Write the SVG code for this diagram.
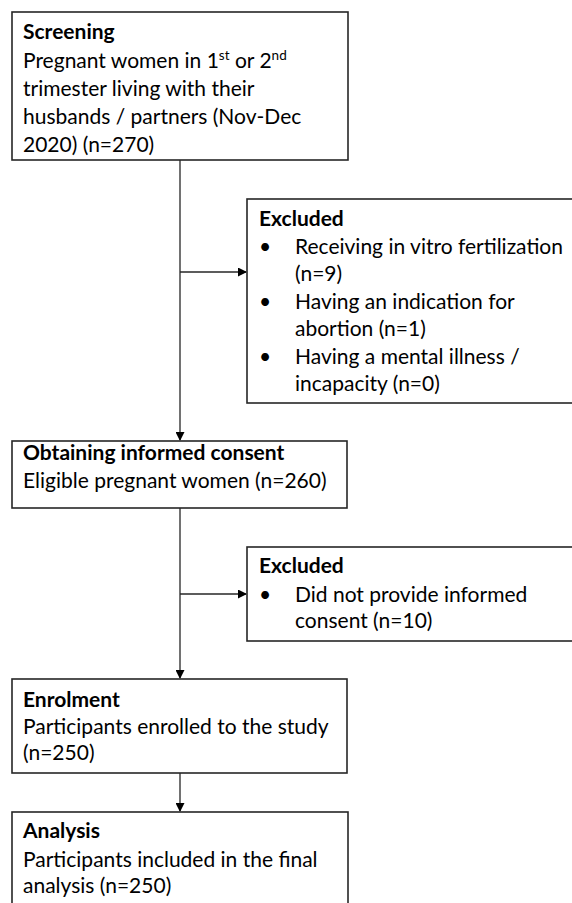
<svg xmlns="http://www.w3.org/2000/svg" width="572" height="903" viewBox="0 0 572 903">
<style>
.box{fill:#fff;stroke:#262626;stroke-width:1.6}
.t{font-family:Lato,"Liberation Sans",sans-serif;font-size:21px;fill:#000}
.b{font-weight:bold}
.sup{font-size:13.5px}
.c{stroke:#262626;stroke-width:1.3;fill:none}
</style>
<defs>
<marker id="ah" markerWidth="9" markerHeight="9" refX="8" refY="4.5" orient="auto" markerUnits="userSpaceOnUse">
<path d="M0,0 L9,4.5 L0,9 Z" fill="#000"/>
</marker>
</defs>
<rect width="572" height="903" fill="#fff"/>
<g id="connectors">
<line class="c" x1="180" y1="160" x2="180" y2="440" marker-end="url(#ah)"/>
<line class="c" x1="180" y1="272" x2="246" y2="272" marker-end="url(#ah)"/>
<line class="c" x1="180" y1="508" x2="180" y2="678" marker-end="url(#ah)"/>
<line class="c" x1="180" y1="594" x2="246" y2="594" marker-end="url(#ah)"/>
<line class="c" x1="180" y1="773" x2="180" y2="811" marker-end="url(#ah)"/>
</g>
<g id="screening">
<rect class="box" x="12" y="12" width="336" height="148"/>
<text class="t b" x="23" y="39">Screening</text>
<text class="t" x="23" y="68">Pregnant women in 1<tspan class="sup" dy="-8">st</tspan><tspan dy="8"> or 2</tspan><tspan class="sup" dy="-8">nd</tspan></text>
<text class="t" x="23" y="96">trimester living with their</text>
<text class="t" x="23" y="124">husbands / partners (Nov-Dec</text>
<text class="t" x="23" y="152">2020) (n=270)</text>
</g>
<g id="excluded1">
<rect class="box" x="247" y="199" width="340" height="204"/>
<text class="t b" x="259" y="226">Excluded</text>
<text class="t" x="259" y="253.5">•</text>
<text class="t" x="295" y="253.5">Receiving in vitro fertilization</text>
<text class="t" x="295" y="281">(n=9)</text>
<text class="t" x="259" y="308.5">•</text>
<text class="t" x="295" y="308.5">Having an indication for</text>
<text class="t" x="295" y="336">abortion (n=1)</text>
<text class="t" x="259" y="363.5">•</text>
<text class="t" x="295" y="363.5">Having a mental illness /</text>
<text class="t" x="295" y="391">incapacity (n=0)</text>
</g>
<g id="consent">
<rect class="box" x="12" y="441" width="335" height="67"/>
<text class="t b" x="23" y="460">Obtaining informed consent</text>
<text class="t" x="23" y="488">Eligible pregnant women (n=260)</text>
</g>
<g id="excluded2">
<rect class="box" x="247" y="547" width="340" height="94"/>
<text class="t b" x="259" y="573">Excluded</text>
<text class="t" x="259" y="602">•</text>
<text class="t" x="295" y="602">Did not provide informed</text>
<text class="t" x="295" y="628">consent (n=10)</text>
</g>
<g id="enrolment">
<rect class="box" x="12" y="679" width="335" height="94"/>
<text class="t b" x="23" y="707">Enrolment</text>
<text class="t" x="23" y="734">Participants enrolled to the study</text>
<text class="t" x="23" y="760">(n=250)</text>
</g>
<g id="analysis">
<rect class="box" x="12" y="812" width="336" height="110"/>
<text class="t b" x="23" y="838">Analysis</text>
<text class="t" x="23" y="867">Participants included in the final</text>
<text class="t" x="23" y="893">analysis (n=250)</text>
</g>
</svg>
